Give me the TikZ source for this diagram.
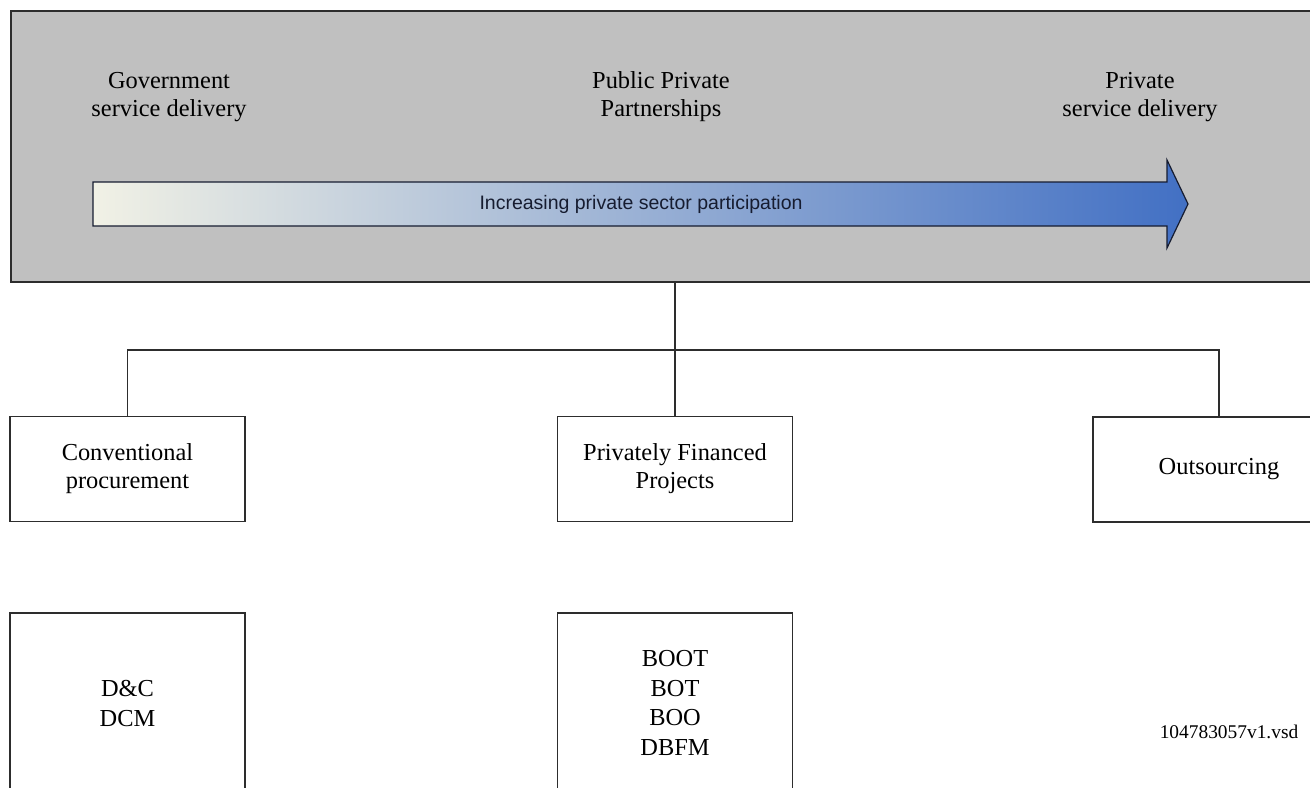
\documentclass[tikz,border=0pt]{standalone}
\usepackage{fontspec}
\setmainfont{Liberation Serif}
\newfontfamily\arialfont{Liberation Sans}
\usetikzlibrary{positioning}
\definecolor{band}{RGB}{192,192,192}
\definecolor{pale}{RGB}{241,241,229}
\definecolor{mist}{RGB}{182,199,216}
\definecolor{deep}{RGB}{66,112,196}
\definecolor{edge}{RGB}{45,45,45}
\definecolor{navy}{RGB}{22,28,48}

\begin{document}
\begin{tikzpicture}[x=0.5pt,y=-0.5pt,node distance=45pt]
\tikzstyle{B}=[draw=edge,line width=0.75pt,fill=white,minimum width=117.5pt,
minimum height=52.5pt,inner sep=0pt,align=center,font=\fontsize{12.2}{14}\selectfont]
\tikzstyle{L}=[B,minimum height=90pt,font=\fontsize{12.2}{15}\selectfont]
\tikzstyle{T}=[align=center,font=\fontsize{12.2}{14}\selectfont]
\useasboundingbox (0,0) rectangle (1310,787);
\clip (0,0) rectangle (1310,787);
\node[draw=edge,line width=0.8pt,fill=band,anchor=north west,inner sep=0pt,
minimum width=660pt,minimum height=135.5pt] (a) at (10,10) {};
\shade[left color=pale,middle color=mist,right color=deep,draw=navy,line width=0.6pt]
(93,182) -- (1167,182) -- (1167,160) -- (1188,204) -- (1167,248) -- (1167,226) -- (93,226) -- cycle;
\node[font=\arialfont\fontsize{9.75}{12}\selectfont,text=navy] (t) at (641,204) {Increasing private sector participation};
\node[T] (g) at (169,97) {Government\\service delivery};
\node[T] (pp) at (661,97) {Public Private\\Partnerships};
\node[T] (ps) at (1140,97) {Private\\service delivery};
\node[B] (c) at (127.5,469) {Conventional\\procurement};
\node[B] (p) at (675,469) {Privately Financed\\Projects};
\node[B,minimum width=126pt] (o) at (1219,469.5) {Outsourcing};
\node[L,below=of c] (d) {D\&C\\DCM};
\node[L,below=of p,font=\fontsize{12.2}{14.75}\selectfont] (e) {BOOT\\BOT\\BOO\\DBFM};
\node[font=\fontsize{9.7}{12}\selectfont] (v) at (1229,732) {104783057v1.vsd};
\coordinate (j) at (675,350);
\draw[edge,line width=0.75pt] (a.south -| p.north) -- (p.north);
\draw[edge,line width=0.75pt] (c.north) |- (j) -| (o.north);
\end{tikzpicture}
\end{document}
